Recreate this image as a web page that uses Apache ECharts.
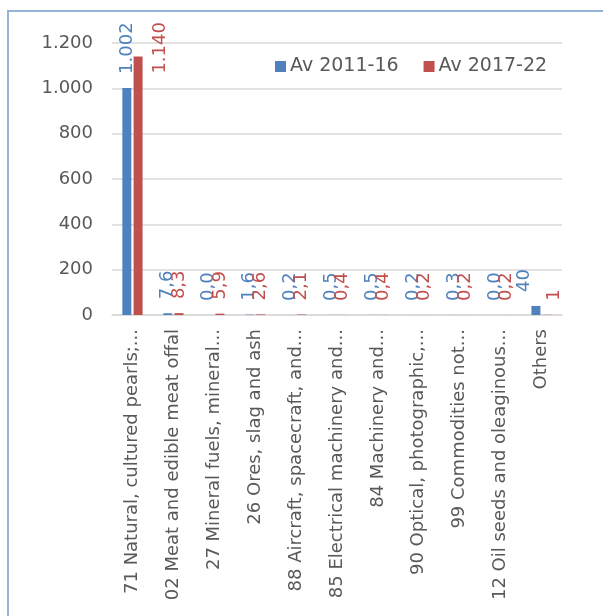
<!DOCTYPE html>
<html>
<head>
<meta charset="utf-8">
<script src="https://cdn.jsdelivr.net/npm/echarts@6/dist/echarts.min.js"></script>
<style>
  html, body { margin: 0; padding: 0; background: #ffffff; }
  #chart { width: 603px; height: 616px; }
</style>
</head>
<body>
<div id="chart"></div>
<script>
// Chapters (HS codes) and the two averaging periods
const categories = [
  '71 Natural, cultured pearls;...',
  '02 Meat and edible meat offal',
  '27 Mineral fuels, mineral...',
  '26 Ores, slag and ash',
  '88 Aircraft, spacecraft, and...',
  '85 Electrical machinery and...',
  '84 Machinery and...',
  '90 Optical, photographic,...',
  '99 Commodities not...',
  '12 Oil seeds and oleaginous...',
  'Others'
];
const seriesNames = ['Av 2011-16', 'Av 2017-22'];
const av2011_16 = [1002, 7.6, 0.0, 1.6, 0.2, 0.5, 0.5, 0.2, 0.3, 0.0, 40];
const av2017_22 = [1140, 8.3, 5.9, 2.6, 2.1, 0.4, 0.4, 0.2, 0.2, 0.2, 1];
const yTicks = [0, 200, 400, 600, 800, 1000, 1200];

const FONT = 'DejaVu Sans, Verdana, sans-serif';
const TEXT = '#595959';
const BLUE = '#4F81BD';
const RED = '#C0504D';

// Thousands with '.', decimals with ','
function fmtNumber(v, decimals) {
  const parts = v.toFixed(decimals).split('.');
  parts[0] = parts[0].replace(/\B(?=(\d{3})+(?!\d))/g, '.');
  return parts.join(',');
}
function fmtLabel(p) {
  const lastIdx = categories.length - 1;
  if (p.dataIndex === lastIdx || p.value >= 100) return fmtNumber(p.value, 0);
  return fmtNumber(p.value, 1);
}

// Per-point label nudges (in the rotated text frame: [along text, across text])
const blueNudge = { 10: [0, -12] };
const redNudge = { 0: [-31, 22], 10: [0, 7] };
function buildData(values, nudges) {
  return values.map((v, i) => nudges[i]
    ? { value: v, label: { offset: nudges[i] } }
    : v);
}

const labelBase = {
  show: true,
  position: 'top',
  rotate: 90,
  align: 'left',
  verticalAlign: 'middle',
  distance: 14,
  fontFamily: FONT,
  fontSize: 18,
  formatter: fmtLabel
};

const chart = echarts.init(document.getElementById('chart'), null, { renderer: 'canvas' });
chart.setOption({
  backgroundColor: '#ffffff',
  animation: false,
  graphic: [{
    type: 'rect',
    shape: { x: 8, y: 11, width: 640, height: 660 },
    style: { fill: 'none', stroke: '#95B3D7', lineWidth: 2 },
    silent: true,
    z: -1
  }],
  legend: {
    data: seriesNames,
    left: 275,
    top: 57,
    padding: 0,
    icon: 'rect',
    itemWidth: 11,
    itemHeight: 11,
    itemGap: 25,
    textStyle: { fontFamily: FONT, fontSize: 19, color: TEXT, padding: [0, 0, 0, -1] }
  },
  grid: { left: 112, right: 41, top: 43, bottom: 301, containLabel: false },
  xAxis: {
    type: 'category',
    data: categories,
    axisLine: { show: true, lineStyle: { color: '#D9D9D9', width: 1.5 } },
    axisTick: { show: false },
    axisLabel: {
      interval: 0,
      rotate: 90,
      margin: 14,
      fontFamily: FONT,
      fontSize: 18,
      color: TEXT
    }
  },
  yAxis: {
    type: 'value',
    min: yTicks[0],
    max: yTicks[yTicks.length - 1],
    interval: yTicks[1] - yTicks[0],
    axisLine: { show: false },
    axisTick: { show: false },
    splitLine: { lineStyle: { color: '#D9D9D9', width: 1.5 } },
    axisLabel: {
      margin: 19,
      fontFamily: FONT,
      fontSize: 18,
      color: TEXT,
      formatter: v => fmtNumber(v, 0)
    }
  },
  series: [
    {
      name: seriesNames[0],
      type: 'bar',
      data: buildData(av2011_16, blueNudge),
      barWidth: 9,
      barGap: '25%',
      itemStyle: { color: BLUE },
      label: Object.assign({}, labelBase, { color: BLUE })
    },
    {
      name: seriesNames[1],
      type: 'bar',
      data: buildData(av2017_22, redNudge),
      barWidth: 9,
      itemStyle: { color: RED },
      label: Object.assign({}, labelBase, { color: RED })
    }
  ]
});
</script>
</body>
</html>
